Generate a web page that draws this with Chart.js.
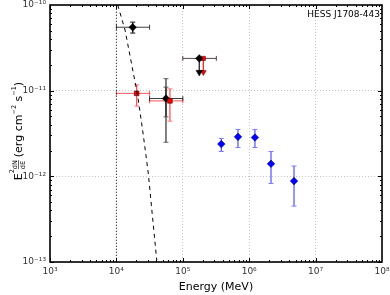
<!DOCTYPE html>
<html>
<head>
<meta charset="utf-8">
<script src="https://cdn.jsdelivr.net/npm/chart.js@4.4.1/dist/chart.umd.min.js"></script>
<style>
  html, body { margin: 0; padding: 0; background: #fff; }
  #wrap { width: 390px; height: 295px; }
</style>
</head>
<body>
<div id="wrap"><canvas id="c" width="390" height="295"></canvas></div>
<script>
// tick positions and labels
const xTicks = [1e3, 1e4, 1e5, 1e6, 1e7, 1e8];
const xTickLabels = ['10³', '10⁴', '10⁵', '10⁶', '10⁷', '10⁸'];
const yTicks = [1e-13, 1e-12, 1e-11, 1e-10];
const yTickLabels = ['10⁻¹³', '10⁻¹²', '10⁻¹¹', '10⁻¹⁰'];

// Fermi points (black)
const fermiE = [1.76e4, 5.58e4];
const fermiF = [5.5e-11, 8.1e-12];
const fermiElo = [1.0e4, 3.16e4];
const fermiEhi = [3.16e4, 1.0e5];
const fermiFlo = [4.7e-11, 2.5e-12];
const fermiFhi = [6.3e-11, 1.38e-11];
const fermiFloStat = [4.7e-11, 4.95e-12];
const fermiFhiStat = [6.3e-11, 1.1e-11];

// second analysis (red)
const redE = [2.02e4, 6.4e4];
const redF = [9.3e-12, 7.6e-12];
const redElo = [1.0e4, 3.16e4];
const redEhi = [3.16e4, 1.0e5];
const redFlo = [6.6e-12, 4.4e-12];
const redFhi = [1.17e-11, 1.05e-11];

// upper limits in the 100-320 GeV bin
const ulBlackE = [1.77e5];
const ulRedE = [2.04e5];
const ulF = [2.38e-11];
const ulTip = [1.64e-11];
const ulElo = [1.0e5];
const ulEhi = [3.2e5];

// HESS points (blue)
const hessE = [3.8e5, 6.78e5, 1.22e6, 2.13e6, 4.73e6];
const hessF = [2.38e-12, 2.89e-12, 2.84e-12, 1.4e-12, 8.8e-13];
const hessFlo = [1.95e-12, 2.17e-12, 2.17e-12, 8.26e-13, 4.49e-13];
const hessFhi = [2.77e-12, 3.53e-12, 3.53e-12, 1.95e-12, 1.32e-12];

// dashed model curve
const modelE = [1.047e4, 1.35e4, 1.95e4, 2.14e4, 2.56e4, 3.02e4, 4.05e4];
const modelF = [1e-10, 5.1e-11, 1.16e-11, 7.76e-12, 2.91e-12, 1.09e-12, 1.05e-13];

// vertical marker at 10 GeV
const vlineE = [1e4, 1e4];
const vlineF = [1e-13, 1e-10];

const pts = (xs, ys) => xs.map((x, i) => ({ x: x, y: ys[i] }));

const errorBars = {
  id: 'errorBars',
  beforeDatasetsDraw(chart) {
    const ctx = chart.ctx, xs = chart.scales.x, ys = chart.scales.y;
    const px = v => xs.getPixelForValue(v), py = v => ys.getPixelForValue(v);
    function hbar(lo, hi, y, col) {
      ctx.strokeStyle = col; ctx.lineWidth = 1;
      ctx.beginPath();
      ctx.moveTo(px(lo), py(y)); ctx.lineTo(px(hi), py(y));
      ctx.moveTo(px(lo), py(y) - 2.5); ctx.lineTo(px(lo), py(y) + 2.5);
      ctx.moveTo(px(hi), py(y) - 2.5); ctx.lineTo(px(hi), py(y) + 2.5);
      ctx.stroke();
    }
    function vbar(x, lo, hi, col, capCol) {
      ctx.strokeStyle = col; ctx.lineWidth = 1.2;
      ctx.beginPath();
      ctx.moveTo(px(x), py(lo)); ctx.lineTo(px(x), py(hi));
      ctx.stroke();
      ctx.strokeStyle = capCol; ctx.lineWidth = 1;
      ctx.beginPath();
      [lo, hi].forEach(v => { ctx.moveTo(px(x) - 2.5, py(v)); ctx.lineTo(px(x) + 2.5, py(v)); });
      ctx.stroke();
    }
    ctx.save();
    ctx.beginPath();
    ctx.rect(chart.chartArea.left, chart.chartArea.top, chart.chartArea.width, chart.chartArea.height);
    ctx.clip();
    redE.forEach((e, i) => {
      hbar(redElo[i], redEhi[i], redF[i], 'rgba(255,40,40,0.8)');
      vbar(e, redFlo[i], redFhi[i], 'rgba(255,40,40,0.85)', 'rgba(255,110,110,0.9)');
    });
    fermiE.forEach((e, i) => {
      hbar(fermiElo[i], fermiEhi[i], fermiF[i], 'rgba(30,30,30,0.85)');
      vbar(e, fermiFlo[i], fermiFhi[i], 'rgba(20,20,20,0.9)', 'rgba(80,80,80,0.9)');
      vbar(e, fermiFloStat[i], fermiFhiStat[i], 'rgba(20,20,20,0.9)', 'rgba(80,80,80,0.9)');
    });
    ulElo.forEach((lo, i) => {
      hbar(lo, ulEhi[i], ulF[i], 'rgba(60,40,40,0.85)');
      ctx.strokeStyle = '#222'; ctx.lineWidth = 1.3;
      ctx.beginPath();
      ctx.moveTo(px(ulBlackE[i]), py(ulF[i])); ctx.lineTo(px(ulBlackE[i]), py(ulTip[i]));
      ctx.stroke();
      ctx.strokeStyle = '#f22';
      ctx.beginPath();
      ctx.moveTo(px(ulRedE[i]), py(ulF[i])); ctx.lineTo(px(ulRedE[i]), py(ulTip[i]));
      ctx.stroke();
    });
    hessE.forEach((e, i) => {
      vbar(e, hessFlo[i], hessFhi[i], 'rgba(50,50,255,0.85)', 'rgba(110,110,255,0.9)');
    });
    ctx.restore();
  }
};

const frame = {
  id: 'frame',
  afterDraw(chart) {
    const ctx = chart.ctx, a = chart.chartArea, xs = chart.scales.x, ys = chart.scales.y;
    ctx.save();
    ctx.strokeStyle = '#000';
    ctx.lineWidth = 1;
    ctx.beginPath();
    // minor and major ticks, pointing inward on all four sides
    for (let d = 3; d < 8; d++) {
      for (let m = 1; m < 10; m++) {
        const x = Math.round(xs.getPixelForValue(m * Math.pow(10, d))) + 0.5;
        const len = m === 1 ? 4 : 2;
        ctx.moveTo(x, a.bottom); ctx.lineTo(x, a.bottom - len);
        ctx.moveTo(x, a.top); ctx.lineTo(x, a.top + len);
      }
    }
    for (let d = -13; d < -10; d++) {
      for (let m = 1; m < 10; m++) {
        const y = Math.round(ys.getPixelForValue(m * Math.pow(10, d))) + 0.5;
        const len = m === 1 ? 4 : 2;
        ctx.moveTo(a.left, y); ctx.lineTo(a.left + len, y);
        ctx.moveTo(a.right, y); ctx.lineTo(a.right - len, y);
      }
    }
    ctx.stroke();
    ctx.lineWidth = 1.6;
    ctx.strokeRect(a.left, a.top, a.right - a.left, a.bottom - a.top);

    // source name
    ctx.fillStyle = '#000';
    ctx.font = '9px "DejaVu Sans"';
    ctx.textAlign = 'right';
    ctx.textBaseline = 'alphabetic';
    ctx.fillText('HESS J1708-443', a.right - 2, 17);

    // x axis title
    ctx.font = '11px "DejaVu Sans"';
    ctx.textAlign = 'center';
    ctx.fillText('Energy (MeV)', (a.left + a.right) / 2, 290);

    // y axis title with fraction
    ctx.translate(18, 131);
    ctx.rotate(-Math.PI / 2);
    ctx.textAlign = 'left';
    const big = '11px "DejaVu Sans"', small = '6.5px "DejaVu Sans"';
    ctx.font = big; const wE = ctx.measureText('E').width;
    ctx.font = small; const wFrac = ctx.measureText('dN').width + 1;
    ctx.font = big; const wR1 = ctx.measureText('(erg cm').width, wR2 = ctx.measureText(' s').width, wR3 = ctx.measureText(')').width;
    ctx.font = small; const wS1 = ctx.measureText('−2').width, wS2 = ctx.measureText('−1').width;
    const total = wE + 4 + wFrac + 2 + wR1 + wS1 + wR2 + wS2 + wR3;
    let x = -total / 2;
    ctx.font = big; ctx.fillText('E', x, 4); x += wE;
    ctx.font = small; ctx.fillText('2', x, -4); x += 4;
    ctx.fillText('dN', x, -1.5);
    ctx.fillText('dE', x, 6.5);
    ctx.lineWidth = 0.6;
    ctx.beginPath(); ctx.moveTo(x, 0.5); ctx.lineTo(x + wFrac - 1, 0.5); ctx.stroke();
    x += wFrac + 2;
    ctx.font = big; ctx.fillText('(erg cm', x, 4); x += wR1;
    ctx.font = small; ctx.fillText('−2', x, -2); x += wS1;
    ctx.font = big; ctx.fillText(' s', x, 4); x += wR2;
    ctx.font = small; ctx.fillText('−1', x, -2); x += wS2;
    ctx.font = big; ctx.fillText(')', x, 4);
    ctx.restore();
  }
};

new Chart(document.getElementById('c'), {
  type: 'scatter',
  data: {
    datasets: [
      { data: pts(vlineE, vlineF), showLine: true, borderColor: '#000', borderWidth: 0.8,
        borderDash: [1, 2], pointRadius: 0 },
      { data: pts(modelE, modelF), showLine: true, borderColor: '#000', borderWidth: 1,
        borderDash: [4, 4], pointRadius: 0 },
      { data: pts(redE, redF), pointStyle: 'rect', pointRadius: 3.3, backgroundColor: '#ff0000',
        borderColor: '#400', borderWidth: 0.6 },
      { data: pts(fermiE, fermiF), pointStyle: 'rectRot', pointRadius: 3.8, backgroundColor: '#000',
        borderColor: '#000', borderWidth: 0.5 },
      { data: pts(ulBlackE, ulTip), pointStyle: 'triangle', rotation: 180, pointRadius: 3.8,
        backgroundColor: '#000', borderColor: '#000', borderWidth: 0.5 },
      { data: pts(ulRedE, ulTip), pointStyle: 'triangle', rotation: 180, pointRadius: 3.3,
        backgroundColor: '#ff0000', borderColor: '#400', borderWidth: 0.5 },
      { data: pts(ulBlackE, ulF), pointStyle: 'rectRot', pointRadius: 3.8, backgroundColor: '#000',
        borderColor: '#000', borderWidth: 0.5 },
      { data: pts(ulRedE, ulF), pointStyle: 'rect', pointRadius: 3.0, backgroundColor: '#ff0000',
        borderColor: '#400', borderWidth: 0.5 },
      { data: pts(hessE, hessF), pointStyle: 'rectRot', pointRadius: 3.8, backgroundColor: '#0000ff',
        borderColor: '#000060', borderWidth: 0.5 }
    ]
  },
  options: {
    responsive: false,
    animation: false,
    events: [],
    layout: { padding: { top: 5, right: 8, left: 0, bottom: 0 } },
    plugins: { legend: { display: false }, tooltip: { enabled: false } },
    scales: {
      x: {
        type: 'logarithmic', min: 1e3, max: 1e8,
        afterBuildTicks: s => { s.ticks = xTicks.map(v => ({ value: v })); },
        afterFit: s => { s.height = 33; s.paddingLeft = 0; s.paddingRight = 0; },
        ticks: {
          callback: v => xTickLabels[xTicks.indexOf(v)] || '',
          font: { family: 'DejaVu Sans', size: 9 }, color: '#333', padding: 4,
          maxRotation: 0, autoSkip: false
        },
        grid: { color: '#c4c4c4', lineWidth: 1, drawTicks: false },
        border: { display: false, dash: [1, 2] }
      },
      y: {
        type: 'logarithmic', min: 1e-13, max: 1e-10,
        afterBuildTicks: s => { s.ticks = yTicks.map(v => ({ value: v })); },
        afterFit: s => { s.width = 50; s.paddingTop = 0; s.paddingBottom = 0; },
        ticks: {
          callback: v => yTickLabels[yTicks.indexOf(v)] || '',
          font: { family: 'DejaVu Sans', size: 9 }, color: '#333', padding: 4,
          autoSkip: false
        },
        grid: { color: '#c4c4c4', lineWidth: 1, drawTicks: false },
        border: { display: false, dash: [1, 2] }
      }
    }
  },
  plugins: [errorBars, frame]
});
</script>
</body>
</html>
